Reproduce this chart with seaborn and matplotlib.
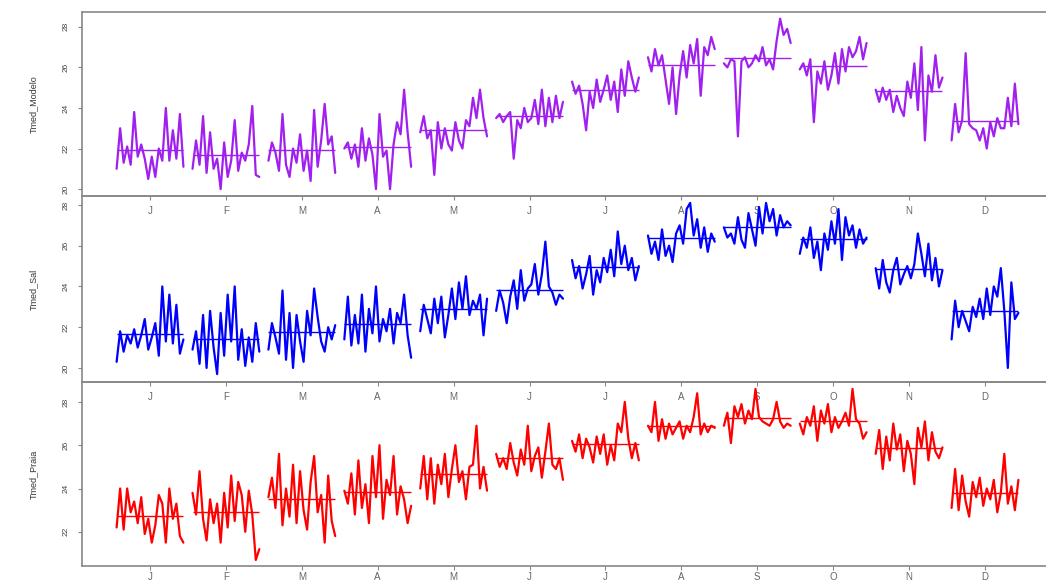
import seaborn as sns
import matplotlib
matplotlib.use("Agg")
import matplotlib.pyplot as plt
import pandas as pd

# Month labels along the x axis
months = ["J", "F", "M", "A", "M", "J", "J", "A", "S", "O", "N", "D"]

# Daily mean temperature, grouped by month
tmed_modelo = [
    [21.0, 23.0, 21.3, 22.1, 21.2, 23.8, 21.6, 22.2, 21.5, 20.5, 21.6, 20.6, 22.0, 21.4, 24.0, 21.4, 22.9, 21.5, 23.7, 21.1],
    [21.0, 22.4, 21.2, 23.6, 20.8, 22.8, 21.0, 21.5, 20.0, 22.3, 20.6, 21.4, 23.4, 20.9, 21.8, 21.4, 22.2, 24.1, 20.7, 20.6],
    [21.4, 22.3, 21.8, 20.9, 23.7, 21.2, 20.6, 22.0, 21.3, 22.7, 20.9, 21.9, 20.4, 23.9, 21.1, 22.4, 24.2, 22.2, 22.6, 20.8],
    [22.0, 22.3, 21.5, 22.2, 21.1, 23.0, 21.4, 22.5, 21.7, 20.0, 23.7, 21.6, 21.9, 20.0, 22.2, 23.3, 22.7, 24.9, 22.8, 21.1],
    [22.8, 23.6, 22.5, 22.9, 20.7, 23.3, 22.0, 23.0, 22.2, 21.9, 23.3, 22.4, 22.0, 23.4, 23.1, 24.5, 23.5, 24.9, 23.5, 22.6],
    [23.5, 23.7, 23.3, 23.6, 23.8, 21.5, 23.4, 23.0, 24.0, 23.3, 23.5, 24.4, 23.2, 24.9, 23.1, 24.5, 23.3, 24.6, 23.5, 24.3],
    [25.3, 24.7, 25.1, 24.2, 22.9, 24.8, 24.0, 25.4, 24.3, 24.9, 25.6, 24.4, 25.3, 23.8, 25.9, 24.6, 26.3, 25.5, 24.8, 25.5],
    [26.5, 25.8, 26.9, 26.1, 26.6, 25.4, 24.2, 26.0, 23.7, 25.6, 26.8, 25.5, 27.1, 26.2, 27.4, 24.6, 27.0, 26.6, 27.5, 26.9],
    [26.2, 26.0, 26.4, 26.3, 22.6, 26.3, 26.5, 26.0, 26.2, 26.6, 26.3, 27.0, 26.1, 26.4, 25.9, 27.3, 28.4, 27.6, 27.9, 27.2],
    [25.9, 26.2, 25.6, 26.4, 23.3, 25.8, 25.2, 26.3, 24.9, 25.6, 26.7, 25.2, 26.9, 25.8, 27.0, 26.5, 26.8, 27.5, 26.4, 27.2],
    [24.9, 24.3, 25.0, 24.4, 24.9, 23.8, 24.6, 24.0, 23.6, 25.3, 24.5, 26.2, 23.9, 27.0, 22.4, 25.6, 24.8, 26.6, 25.0, 25.5],
    [22.4, 24.2, 22.8, 23.4, 26.7, 23.2, 23.0, 22.9, 22.4, 23.0, 22.0, 23.3, 22.6, 23.5, 23.0, 23.0, 24.5, 23.1, 25.2, 23.2],
]

tmed_sal = [
    [20.3, 21.8, 20.8, 21.6, 21.2, 21.9, 21.0, 21.6, 22.4, 20.9, 21.5, 22.2, 20.6, 24.0, 21.3, 23.6, 21.2, 23.1, 20.7, 21.4],
    [20.9, 21.8, 20.2, 22.6, 20.0, 22.8, 21.0, 19.7, 22.7, 20.6, 23.6, 21.3, 24.0, 20.4, 21.9, 20.1, 21.5, 20.3, 22.2, 20.8],
    [20.9, 22.2, 21.5, 20.7, 23.8, 20.4, 22.7, 20.0, 22.6, 21.3, 20.3, 22.8, 21.6, 23.9, 22.5, 21.3, 20.8, 22.0, 21.4, 22.1],
    [21.4, 23.5, 21.1, 22.6, 21.2, 23.6, 20.8, 22.9, 21.7, 24.0, 21.3, 22.4, 21.8, 22.9, 21.2, 22.7, 22.2, 23.6, 21.6, 20.5],
    [21.8, 23.1, 22.4, 21.7, 23.4, 22.2, 23.5, 21.5, 22.6, 23.9, 22.4, 24.2, 22.9, 24.5, 22.6, 23.3, 22.9, 23.6, 21.6, 23.4],
    [22.8, 23.8, 23.2, 22.2, 23.5, 24.3, 22.9, 24.8, 23.3, 23.9, 24.1, 25.1, 23.6, 24.6, 26.2, 24.0, 23.7, 23.1, 23.6, 23.4],
    [25.3, 24.4, 25.0, 23.9, 24.6, 25.5, 23.6, 24.8, 24.2, 25.4, 24.7, 25.8, 24.5, 26.7, 25.1, 26.0, 24.8, 25.4, 24.3, 25.0],
    [26.5, 25.6, 26.2, 25.3, 26.8, 25.5, 26.0, 25.2, 26.6, 27.0, 26.1, 27.8, 28.1, 26.5, 27.3, 25.9, 26.9, 25.7, 26.6, 26.2],
    [26.9, 26.4, 26.6, 26.1, 27.4, 26.3, 25.9, 27.6, 26.8, 26.0, 27.9, 26.6, 28.1, 27.2, 27.8, 26.5, 27.5, 26.9, 27.2, 27.0],
    [25.6, 26.4, 25.9, 26.9, 25.4, 26.2, 24.8, 26.6, 25.8, 27.2, 26.1, 27.8, 25.3, 27.4, 26.5, 27.0, 25.9, 26.8, 26.1, 26.4],
    [24.9, 23.9, 25.3, 24.2, 23.7, 24.8, 25.4, 24.1, 24.6, 25.0, 24.4, 25.1, 26.6, 25.6, 24.5, 26.1, 24.3, 25.4, 24.0, 24.8],
    [21.4, 23.3, 22.0, 22.8, 22.3, 21.8, 23.0, 22.5, 23.4, 22.4, 23.9, 22.6, 24.0, 23.5, 24.9, 22.8, 20.0, 24.2, 22.4, 22.7],
]

tmed_praia = [
    [22.2, 24.0, 22.1, 24.0, 22.9, 23.4, 22.4, 23.6, 21.9, 22.6, 21.5, 22.3, 23.7, 23.3, 21.5, 24.0, 22.6, 23.3, 21.8, 21.5],
    [23.8, 22.8, 24.8, 22.6, 21.6, 23.5, 22.4, 23.3, 21.5, 23.8, 22.2, 24.6, 22.5, 24.3, 23.7, 22.0, 23.9, 22.8, 20.7, 21.2],
    [23.6, 24.5, 23.1, 25.6, 22.3, 24.0, 22.7, 25.1, 22.4, 24.8, 23.0, 22.1, 24.3, 25.5, 22.9, 23.7, 21.5, 24.6, 22.5, 21.8],
    [23.9, 23.3, 24.7, 22.8, 25.3, 23.1, 24.2, 22.4, 25.5, 23.6, 26.0, 22.6, 24.4, 23.7, 25.5, 22.8, 24.1, 23.5, 22.4, 23.2],
    [24.0, 25.5, 23.5, 25.4, 23.3, 25.1, 24.2, 25.6, 23.6, 24.9, 26.0, 24.3, 24.8, 23.5, 25.0, 25.1, 26.9, 24.0, 25.0, 23.9],
    [25.6, 25.0, 25.4, 24.9, 26.1, 25.2, 24.6, 25.8, 25.1, 26.9, 24.8, 25.5, 25.9, 24.5, 25.7, 27.0, 25.1, 24.9, 25.4, 24.4],
    [26.2, 25.7, 26.5, 25.4, 26.3, 25.9, 25.2, 26.4, 25.6, 26.5, 25.1, 26.0, 25.3, 27.0, 26.6, 28.0, 26.3, 25.4, 26.1, 25.3],
    [26.9, 26.6, 28.0, 26.2, 27.2, 26.3, 27.0, 26.5, 26.8, 27.1, 26.3, 26.9, 26.6, 27.3, 28.4, 26.5, 27.0, 26.6, 26.9, 26.8],
    [26.9, 27.5, 26.1, 27.8, 27.3, 27.9, 27.0, 27.6, 27.2, 28.6, 27.3, 27.1, 27.0, 26.9, 27.2, 28.0, 27.1, 26.8, 27.0, 26.9],
    [27.0, 26.5, 27.3, 26.9, 27.8, 26.2, 27.6, 27.0, 27.9, 26.6, 27.3, 26.8, 27.1, 27.5, 26.9, 28.6, 27.2, 27.0, 26.3, 26.6],
    [25.6, 26.7, 24.9, 26.4, 25.3, 27.0, 25.8, 26.5, 24.8, 26.2, 25.6, 24.2, 26.8, 25.9, 27.1, 25.3, 26.6, 25.7, 25.4, 25.9],
    [23.1, 24.9, 23.0, 24.6, 23.4, 22.7, 24.3, 23.6, 24.5, 23.2, 24.0, 23.5, 24.4, 22.9, 23.8, 25.6, 23.3, 24.1, 23.0, 24.4],
]

panels = [
    ("Tmed_Modelo", tmed_modelo, "#A020F0", (19.66, 28.73)),
    ("Tmed_Sal", tmed_sal, "#0000FF", (19.31, 28.44)),
    ("Tmed_Praia", tmed_praia, "#FF0000", (20.42, 28.92)),
]


def month_frame(values):
    # spread each month's days across a band centred on the month tick
    rows = []
    for m, vals in enumerate(values, start=1):
        n = len(vals)
        for d, v in enumerate(vals):
            rows.append({"month": m, "x": m - 0.44 + 0.88 * d / (n - 1), "value": v})
    return pd.DataFrame(rows)


sns.set_theme(style="white")
plt.rcParams["font.family"] = ["Liberation Sans", "DejaVu Sans"]

W, H = 1046, 583
fig = plt.figure(figsize=(W / 100, H / 100), dpi=100)

# (top, bottom) pixel rows of each panel frame
boxes = [(12, 196), (196, 382), (382, 566)]
label_pads = [4, 4, 1]
left_px, right_px = 82, 1050

for (name, values, color, ylim), (top, bottom), xpad in zip(panels, boxes, label_pads):
    ax = fig.add_axes([left_px / W, (H - bottom) / H, (right_px - left_px) / W, (bottom - top) / H])
    ax.set_facecolor("none")
    df = month_frame(values)
    sns.lineplot(data=df, x="x", y="value", units="month", estimator=None,
                 sort=False, color=color, lw=1.6, ax=ax)
    means = df.groupby("month")["value"].mean()
    ax.hlines(means.values, means.index - 0.44, means.index + 0.44, color=color, lw=1.0)

    ax.set_xlim(1 - (150 - left_px) / 75.9, 12 + (right_px - 985) / 75.9)
    ax.set_ylim(*ylim)
    ax.set_xticks(range(1, 13))
    ax.set_xticklabels(months)
    ax.set_yticks([t for t in [20, 22, 24, 26, 28] if ylim[0] <= t <= ylim[1]])
    ax.set_xlabel("")
    ax.set_ylabel(name, fontsize=6.5, color="#333333")
    ax.yaxis.set_label_coords(-44 / (right_px - left_px), 0.5)
    ax.tick_params(axis="x", bottom=True, length=3, width=0.8, color="#888888",
                   labelsize=7, labelcolor="#666666", pad=xpad)
    ax.tick_params(axis="y", left=True, length=3, width=0.8, color="#888888",
                   labelsize=6, labelcolor="#444444", pad=6)
    for lab in ax.get_yticklabels():
        lab.set_rotation(90)
        lab.set_va("center")
    for sp in ax.spines.values():
        sp.set_color("#888888")
        sp.set_linewidth(1.2)

fig.savefig("out.png", dpi=100)
